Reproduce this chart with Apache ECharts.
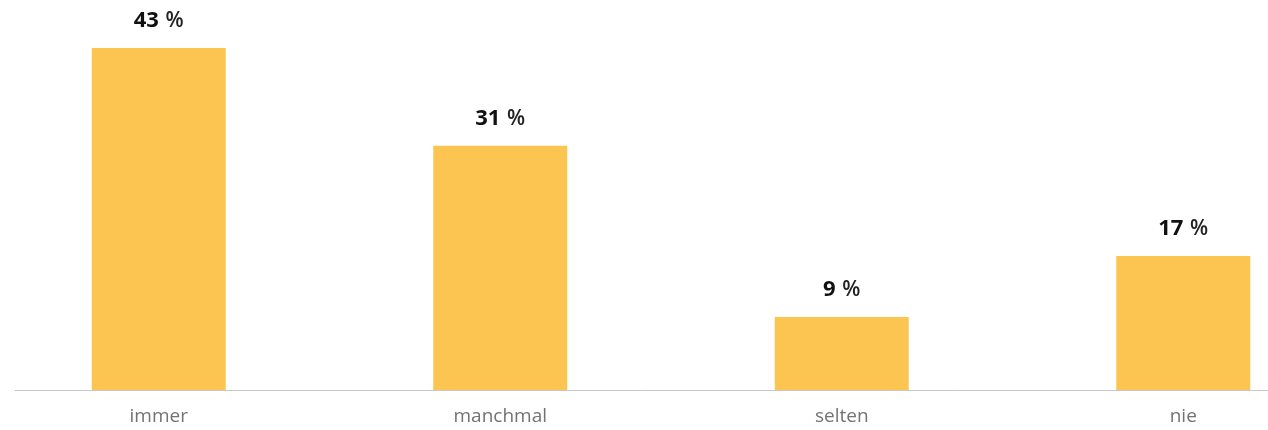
<!DOCTYPE html>
<html>
<head>
<meta charset="utf-8">
<script src="https://cdn.jsdelivr.net/npm/echarts@6/dist/echarts.min.js"></script>
<style>html,body{margin:0;padding:0;background:#fff}#c{width:1268px;height:430px}</style>
</head>
<body>
<div id="c"></div>
<script>
var categories = ["immer", "manchmal", "selten", "nie"];
var values = [43.1, 30.8, 9.2, 16.9];
var valueLabels = ["43", "31", "9", "17"];

var chart = echarts.init(document.getElementById('c'), null, {renderer: 'canvas'});
var FONT = '"Open Sans", Lato, sans-serif';
chart.setOption({
  animation: false,
  backgroundColor: '#fff',
  grid: [
    {left: -12, width: 1366, top: 33, bottom: 40, containLabel: false, outerBoundsMode: 'none'},
    {left: 15, right: 0, top: 33, bottom: 40, containLabel: false, outerBoundsMode: 'none'}
  ],
  xAxis: [
    {
      type: 'category', gridIndex: 0, data: categories,
      axisLine: {show: false}, axisTick: {show: false},
      axisLabel: {color: '#737373', fontSize: 19, fontFamily: FONT, margin: 17}
    },
    {
      type: 'category', gridIndex: 1, data: [''],
      axisLine: {show: true, lineStyle: {color: '#c8c8c8', width: 1}},
      axisTick: {show: false}, axisLabel: {show: false}
    }
  ],
  yAxis: [
    {type: 'value', gridIndex: 0, min: 0, max: 45, show: false, splitLine: {show: false}},
    {type: 'value', gridIndex: 1, min: 0, max: 45, show: false, splitLine: {show: false}}
  ],
  series: [{
    type: 'bar', xAxisIndex: 0, yAxisIndex: 0,
    data: values, barWidth: 134,
    itemStyle: {color: '#FCC552'},
    label: {
      show: true, position: 'top', distance: 16,
      formatter: function (p) { return '{n|' + valueLabels[p.dataIndex] + '}  {p|%}'; },
      rich: {
        n: {fontSize: 22, fontWeight: 'bold', color: '#111', fontFamily: FONT},
        p: {fontSize: 21, fontWeight: 600, color: '#222', fontFamily: FONT}
      }
    }
  }]
});
</script>
</body>
</html>
